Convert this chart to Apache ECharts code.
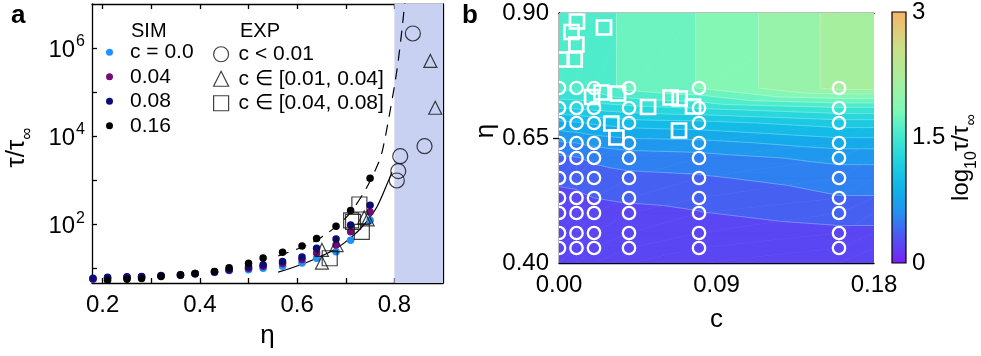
<!DOCTYPE html>
<html>
<head>
<meta charset="utf-8">
<script src="https://cdn.jsdelivr.net/npm/echarts@6/dist/echarts.min.js"></script>
<style>
  html, body { margin: 0; padding: 0; background: #ffffff; }
  #chart { width: 981px; height: 356px; }
</style>
</head>
<body>
<div id="chart"></div>
<script>
// ---------------- Panel a: tau / tau_inf versus packing fraction eta ----------------
const etaSim = [0.18, 0.21, 0.25, 0.28, 0.32, 0.36, 0.39, 0.43, 0.46, 0.50, 0.53, 0.57, 0.61, 0.64, 0.68, 0.71, 0.75];
const tauSimC000 = [5.6, 5.9, 6.1, 6.3, 6.6, 6.9, 7.4, 8.0, 8.8, 9.2, 10.0, 11.0, 13.1, 16.8, 23.6, 43, 123];
const tauSimC004 = [5.7, 6.0, 6.2, 6.4, 6.7, 7.0, 7.5, 8.2, 9.0, 9.9, 11.0, 12.8, 15.8, 22, 33.5, 67, 189];
const tauSimC008 = [5.9, 6.2, 6.4, 6.5, 6.8, 7.1, 7.6, 8.3, 9.3, 10.6, 12.0, 14.2, 18, 28.5, 46, 95, 268];
const tauSimC016 = [null, 5.3, 5.6, 5.8, 6.5, 7.0, 7.6, 8.4, 10.2, 12.9, 17.0, 22.9, 32, 47, 90, 205, 1100];

// fitted curves
const fitSolidEta = [0.561, 0.606, 0.647, 0.675, 0.709, 0.737, 0.764, 0.788, 0.795];
const fitSolidTau = [8.1, 11.8, 18.2, 25.7, 47.5, 95.5, 245, 977, 1514];
const fitDashedEta = [0.561, 0.617, 0.654, 0.702, 0.740, 0.768, 0.777, 0.792, 0.806, 0.816, 0.822];
const fitDashedTau = [18.9, 32.4, 53.7, 146, 589, 2570, 5620, 41700, 355000, 2.88e6, 1.26e7];

// experiments
const expCircleEta = [0.838, 0.862, 0.812, 0.808, 0.805];
const expCircleTau = [2.14e6, 5.9e3, 3.5e3, 1.6e3, 980];
const expTriangleEta = [0.874, 0.884, 0.651, 0.651, 0.681, 0.738, 0.745];
const expTriangleTau = [5.1e5, 4.4e4, 25.9, 13.3, 33.5, 142, 128];
const expSquareEta = [0.728, 0.711, 0.715, 0.733, 0.667];
const expSquareTau = [279, 122, 112, 67, 16.8];

const glassEtaRange = [0.8, 0.9];
const etaAxisA = [0.178, 0.9];
const tauAxisA = [4.6, 1e7];
const etaTicksA = [0.2, 0.3, 0.4, 0.5, 0.6, 0.7, 0.8];
const etaLabelsA = [0.2, 0.4, 0.6, 0.8];
const tauTickExp = [1, 2, 3, 4, 5, 6];
const tauLabelExp = [2, 4, 6];

// ---------------- Panel b: log10 tau/tau_inf over (c, eta) ----------------
const gridC = [0, 0.01, 0.02, 0.04, 0.08, 0.16];
const gridEta = [0.43, 0.46, 0.50, 0.53, 0.57, 0.61, 0.64, 0.68, 0.71, 0.75];
const mapLogTauC000 = [0.16, 0.18, 0.22, 0.26, 0.33, 0.42, 0.58, 0.85, 1.20, 1.54];
const mapLogTauC001 = [0.16, 0.19, 0.23, 0.27, 0.34, 0.44, 0.60, 0.88, 1.22, 1.55];
const mapLogTauC002 = [0.17, 0.20, 0.26, 0.30, 0.38, 0.48, 0.64, 0.92, 1.25, 1.56];
const mapLogTauC004 = [0.18, 0.21, 0.27, 0.315, 0.41, 0.52, 0.68, 0.97, 1.30, 1.70];
const mapLogTauC008 = [0.19, 0.23, 0.295, 0.33, 0.43, 0.54, 0.70, 1.00, 1.36, 1.805];
const mapLogTauC016 = [0.22, 0.27, 0.35, 0.44, 0.52, 0.64, 0.82, 1.12, 1.48, 2.146];

const mapExpC   = [0.0103, 0.0071, 0.0099, 0.0014, 0.0090, 0.0257, 0.0189, 0.0242, 0.0337, 0.0509, 0.0638, 0.0690, 0.0766, 0.0299, 0.0328, 0.0686];
const mapExpEta = [0.883, 0.862, 0.837, 0.807, 0.807, 0.871, 0.732, 0.741, 0.739, 0.712, 0.731, 0.729, 0.713, 0.679, 0.651, 0.665];

const cAxisB = [0, 0.18];
const etaAxisB = [0.4, 0.9];
const cLabelsB = [0, 0.09, 0.18];
const etaLabelsB = [0.4, 0.65, 0.9];
const colorbarRange = [0, 3];
const colorbarLabels = [0, 1.5, 3];
const contourStep = 0.15;

const cmapStops = [
  [0.00, '#7a1ff5'], [0.35, '#4a5cf2'], [0.60, '#2490f0'], [0.90, '#10b4e8'],
  [1.20, '#20d0e0'], [1.50, '#40e8d0'], [1.83, '#80f8b8'], [2.15, '#a4f0a0'],
  [2.55, '#c8e088'], [3.00, '#f8b468']
];

const FONT = 'Liberation Sans, Arial, Helvetica, sans-serif';

function hexToRgb(h) { return [1, 3, 5].map(i => parseInt(h.substr(i, 2), 16)); }
function cmap(v) {
  if (v <= cmapStops[0][0]) return cmapStops[0][1];
  for (let i = 1; i < cmapStops.length; i++) {
    if (v <= cmapStops[i][0]) {
      const [v0, c0] = cmapStops[i - 1], [v1, c1] = cmapStops[i];
      const t = (v - v0) / (v1 - v0);
      const a = hexToRgb(c0), b = hexToRgb(c1);
      return 'rgb(' + a.map((x, k) => Math.round(x + (b[k] - x) * t)).join(',') + ')';
    }
  }
  return cmapStops[cmapStops.length - 1][1];
}

// filled contours: the grid is held constant out to the frame edges, each cell is
// split into two triangles and each triangle is clipped to every level band
const mapCols = [mapLogTauC000, mapLogTauC001, mapLogTauC002, mapLogTauC004, mapLogTauC008, mapLogTauC016];
const nodeC = gridC.concat([cAxisB[1]]);
const nodeEta = [etaAxisB[0]].concat(gridEta, [etaAxisB[1]]);
const nodeF = nodeC.map((c, i) => {
  const col = mapCols[Math.min(i, mapCols.length - 1)];
  return [col[0]].concat(col, [col[col.length - 1]]);
});

function clipPoly(poly, level, keepAbove) {
  const out = [];
  for (let i = 0; i < poly.length; i++) {
    const a = poly[i], b = poly[(i + 1) % poly.length];
    const ina = keepAbove ? a[2] >= level : a[2] <= level;
    const inb = keepAbove ? b[2] >= level : b[2] <= level;
    if (ina) out.push(a);
    if (ina !== inb) {
      const t = (level - a[2]) / (b[2] - a[2]);
      out.push([a[0] + t * (b[0] - a[0]), a[1] + t * (b[1] - a[1]), level]);
    }
  }
  return out;
}

// contour line piece of one level inside a triangle
function levelSegment(tri, level) {
  const pts = [];
  for (let i = 0; i < 3; i++) {
    const a = tri[i], b = tri[(i + 1) % 3];
    if ((a[2] < level) !== (b[2] < level)) {
      const t = (level - a[2]) / (b[2] - a[2]);
      pts.push([a[0] + t * (b[0] - a[0]), a[1] + t * (b[1] - a[1])]);
    }
  }
  return pts.length === 2 ? pts : null;
}

const contourPolys = [];
const contourSegs = [];
const nBands = Math.round((colorbarRange[1] - colorbarRange[0]) / contourStep);
for (let i = 0; i < nodeC.length - 1; i++) {
  for (let j = 0; j < nodeEta.length - 1; j++) {
    const p00 = [nodeC[i], nodeEta[j], nodeF[i][j]];
    const p10 = [nodeC[i + 1], nodeEta[j], nodeF[i + 1][j]];
    const p11 = [nodeC[i + 1], nodeEta[j + 1], nodeF[i + 1][j + 1]];
    const p01 = [nodeC[i], nodeEta[j + 1], nodeF[i][j + 1]];
    [[p00, p10, p11], [p00, p11, p01]].forEach(tri => {
      for (let k = 0; k < nBands; k++) {
        const lo = colorbarRange[0] + k * contourStep, hi = lo + contourStep;
        if (k > 0) {
          const seg = levelSegment(tri, lo);
          if (seg) contourSegs.push(seg);
        }
        let poly = clipPoly(tri, lo, true);
        if (poly.length < 3) continue;
        poly = clipPoly(poly, hi, false);
        if (poly.length < 3) continue;
        contourPolys.push({ pts: poly.map(p => [p[0], p[1]]), color: cmap(lo + contourStep / 2) });
      }
    });
  }
}

const simGridPoints = [];
gridC.forEach(c => gridEta.forEach(e => simGridPoints.push([c, e])));

const lg = v => (v == null ? null : Math.log10(v));
const pairs = (xs, ys) => xs.map((x, i) => [x, lg(ys[i])]);

const axisLineStyle = { show: true, lineStyle: { color: '#000', width: 1.3 } };
const tickStyle = { color: '#000', width: 1.3 };
const labelBase = { color: '#000', fontSize: 24, fontFamily: FONT };

const chart = echarts.init(document.getElementById('chart'), null, { renderer: 'canvas' });

const simColors = ['#1e90ff', '#780a78', '#0c0c78', '#000000'];
function simSeries(name, tau, color) {
  return {
    name, type: 'scatter', xAxisIndex: 0, yAxisIndex: 0,
    data: pairs(etaSim, tau).filter(p => p[1] != null),
    symbol: 'circle', symbolSize: 7.5, itemStyle: { color, opacity: 1 }, z: 4
  };
}
function expSeries(name, eta, tau, symbol, size) {
  return {
    name, type: 'scatter', xAxisIndex: 0, yAxisIndex: 0,
    data: pairs(eta, tau), symbol, symbolSize: size,
    itemStyle: { color: 'rgba(0,0,0,0)', borderColor: '#111', borderWidth: 1.2 }, z: 5
  };
}

const option = {
  animation: false,
  backgroundColor: '#ffffff',
  title: [
    { text: 'a', left: 6, top: -2, textStyle: { fontSize: 26, fontWeight: 'bold', fontFamily: FONT, color: '#000' } },
    { text: 'b', left: 457, top: -2, textStyle: { fontSize: 26, fontWeight: 'bold', fontFamily: FONT, color: '#000' } },
    { text: 'SIM', left: 126, top: 16, textStyle: { fontSize: 20, fontWeight: 'normal', fontFamily: FONT, color: '#000' } },
    { text: 'EXP', left: 235, top: 16, textStyle: { fontSize: 20, fontWeight: 'normal', fontFamily: FONT, color: '#000' } }
  ],
  legend: [
    {
      data: ['c = 0.0', '0.04', '0.08', '0.16'], orient: 'vertical', left: 101, top: 35,
      icon: 'circle', itemWidth: 7, itemHeight: 7, itemGap: 0, selectedMode: false,
      textStyle: { fontSize: 21, fontFamily: FONT, color: '#000', lineHeight: 24.5, padding: [0, 0, 0, 12] }
    },
    {
      data: ['c < 0.01', 'c ∈ [0.01, 0.04]', 'c ∈ [0.04, 0.08]'], orient: 'vertical', left: 208, top: 37,
      itemWidth: 15, itemHeight: 15, itemGap: 0, selectedMode: false,
      itemStyle: { borderWidth: 1.2 },
      textStyle: { fontSize: 21, fontFamily: FONT, color: '#000', lineHeight: 24.5, padding: [0, 0, 0, 5] }
    }
  ],
  grid: [
    { left: 92, top: 4, width: 351, height: 279 },
    { left: 559, top: 13, width: 315, height: 250 },
    { left: 892, top: 12, width: 14, height: 251 }
  ],
  xAxis: [
    {
      gridIndex: 0, type: 'value', min: etaAxisA[0], max: etaAxisA[1], position: 'bottom',
      axisLine: axisLineStyle, splitLine: { show: false },
      axisTick: { inside: true, length: 5, customValues: etaTicksA, lineStyle: tickStyle },
      axisLabel: Object.assign({ customValues: etaLabelsA, margin: 10, formatter: v => v.toFixed(1) }, labelBase),
      name: 'η', nameLocation: 'middle', nameGap: 40,
      nameTextStyle: { fontSize: 26, fontFamily: FONT, color: '#000' }
    },
    {
      gridIndex: 0, type: 'value', min: etaAxisA[0], max: etaAxisA[1], position: 'top',
      axisLine: axisLineStyle, splitLine: { show: false }, axisLabel: { show: false },
      axisTick: { inside: true, length: 5, customValues: etaTicksA, lineStyle: tickStyle }
    },
    {
      gridIndex: 1, type: 'value', min: cAxisB[0], max: cAxisB[1], position: 'bottom',
      axisLine: axisLineStyle, splitLine: { show: false },
      axisTick: { inside: true, length: 6, customValues: [0.09], lineStyle: tickStyle },
      axisLabel: Object.assign({ customValues: cLabelsB, margin: 10, formatter: v => v.toFixed(2) }, labelBase),
      name: 'c', nameLocation: 'middle', nameGap: 44,
      nameTextStyle: { fontSize: 26, fontFamily: FONT, color: '#000' }
    },
    {
      gridIndex: 1, type: 'value', min: cAxisB[0], max: cAxisB[1], position: 'top',
      axisLine: axisLineStyle, splitLine: { show: false }, axisLabel: { show: false },
      axisTick: { inside: true, length: 6, customValues: [0.09], lineStyle: tickStyle }
    },
    { gridIndex: 2, type: 'value', min: 0, max: 1, show: false }
  ],
  yAxis: [
    {
      gridIndex: 0, type: 'value', min: lg(tauAxisA[0]), max: lg(tauAxisA[1]), position: 'left',
      axisLine: axisLineStyle, splitLine: { show: false },
      axisTick: { inside: true, length: 5, customValues: tauTickExp, lineStyle: tickStyle },
      axisLabel: {
        customValues: tauLabelExp, margin: 7,
        formatter: v => '{b|10}{p|' + Math.round(v) + '}',
        rich: {
          b: { fontSize: 24, fontFamily: FONT, color: '#000', verticalAlign: 'bottom' },
          p: { fontSize: 16, fontFamily: FONT, color: '#000', verticalAlign: 'bottom', padding: [0, 0, 12, 1] }
        }
      },
      name: '{b|τ/τ}{s|∞}', nameLocation: 'middle', nameGap: 56, nameRotate: 90,
      nameTextStyle: {
        padding: [0, 8, 0, 0],
        rich: {
          b: { fontSize: 26, fontFamily: FONT, color: '#000', verticalAlign: 'bottom', padding: [0, 0, 6, 0] },
          s: { fontSize: 17, fontFamily: FONT, color: '#000', verticalAlign: 'bottom' }
        }
      }
    },
    {
      gridIndex: 0, type: 'value', min: lg(tauAxisA[0]), max: lg(tauAxisA[1]), position: 'right',
      axisLine: axisLineStyle, splitLine: { show: false }, axisLabel: { show: false },
      axisTick: { inside: true, length: 5, customValues: tauTickExp, lineStyle: tickStyle }
    },
    {
      gridIndex: 1, type: 'value', min: etaAxisB[0], max: etaAxisB[1], position: 'left',
      axisLine: axisLineStyle, splitLine: { show: false },
      axisTick: { inside: true, length: 6, customValues: [0.65], lineStyle: tickStyle },
      axisLabel: Object.assign({ customValues: etaLabelsB, margin: 10, formatter: v => v.toFixed(2) }, labelBase),
      name: 'η', nameLocation: 'middle', nameGap: 60, nameRotate: 90,
      nameTextStyle: { fontSize: 26, fontFamily: FONT, color: '#000', padding: [0, 0, 0, 14] }
    },
    {
      gridIndex: 1, type: 'value', min: etaAxisB[0], max: etaAxisB[1], position: 'right',
      axisLine: axisLineStyle, splitLine: { show: false }, axisLabel: { show: false },
      axisTick: { inside: true, length: 6, customValues: [0.65], lineStyle: tickStyle }
    },
    {
      gridIndex: 2, type: 'value', min: colorbarRange[0], max: colorbarRange[1], position: 'right',
      axisLine: { show: false }, axisTick: { show: false }, splitLine: { show: false },
      axisLabel: Object.assign({ customValues: colorbarLabels, margin: 6, formatter: v => String(v) }, labelBase),
      name: '{b|log}{s|10}{b|τ/τ}{s|∞}', nameLocation: 'middle', nameGap: 42, nameRotate: 90,
      nameTextStyle: {
        padding: [0, 40, 0, 0],
        rich: {
          b: { fontSize: 24, fontFamily: FONT, color: '#000', verticalAlign: 'bottom', padding: [0, 0, 6, 0] },
          s: { fontSize: 16, fontFamily: FONT, color: '#000', verticalAlign: 'bottom' }
        }
      }
    },
    {
      gridIndex: 2, type: 'value', min: colorbarRange[0], max: colorbarRange[1], position: 'left',
      axisLine: { show: false }, splitLine: { show: false }, axisLabel: { show: false },
      axisTick: { inside: true, length: 5, customValues: [1.5], lineStyle: tickStyle }
    }
  ],
  series: [
    // shaded glass region
    {
      type: 'custom', xAxisIndex: 0, yAxisIndex: 0, clip: true, z: 1,
      data: [[glassEtaRange[0], lg(tauAxisA[1])]],
      renderItem: (params, api) => {
        const p0 = api.coord([glassEtaRange[0], lg(tauAxisA[1])]);
        const p1 = api.coord([glassEtaRange[1], lg(tauAxisA[0])]);
        return { type: 'rect', shape: { x: p0[0], y: p0[1], width: p1[0] - p0[0], height: p1[1] - p0[1] },
                 style: { fill: '#c9d1f2' } };
      }
    },
    {
      name: 'fit-solid', type: 'line', xAxisIndex: 0, yAxisIndex: 0, data: pairs(fitSolidEta, fitSolidTau),
      smooth: 0.3, showSymbol: false, lineStyle: { color: '#000', width: 1.2 }, z: 3
    },
    {
      name: 'fit-dashed', type: 'line', xAxisIndex: 0, yAxisIndex: 0, data: pairs(fitDashedEta, fitDashedTau),
      smooth: 0.3, showSymbol: false, lineStyle: { color: '#000', width: 1.2, type: [11, 8] }, z: 3
    },
    simSeries('c = 0.0', tauSimC000, simColors[0]),
    simSeries('0.04', tauSimC004, simColors[1]),
    simSeries('0.08', tauSimC008, simColors[2]),
    simSeries('0.16', tauSimC016, simColors[3]),
    expSeries('c < 0.01', expCircleEta, expCircleTau, 'circle', 15),
    expSeries('c ∈ [0.01, 0.04]', expTriangleEta, expTriangleTau, 'triangle', 13),
    expSeries('c ∈ [0.04, 0.08]', expSquareEta, expSquareTau, 'rect', 15),

    // panel b: filled contour bands
    {
      type: 'custom', xAxisIndex: 2, yAxisIndex: 2, clip: true, z: 1,
      data: contourPolys.map(p => [p.pts[0][0], p.pts[0][1]]),
      renderItem: (params, api) => {
        const poly = contourPolys[params.dataIndex];
        return { type: 'polygon', shape: { points: poly.pts.map(p => api.coord(p)) },
                 style: { fill: poly.color, stroke: poly.color, lineWidth: 0.7 } };
      }
    },
    // faint light seams along the contour levels
    {
      type: 'custom', xAxisIndex: 2, yAxisIndex: 2, clip: true, z: 2,
      data: contourSegs.map(s => [s[0][0], s[0][1]]),
      renderItem: (params, api) => {
        const s = contourSegs[params.dataIndex];
        const a = api.coord(s[0]), b = api.coord(s[1]);
        return { type: 'line', shape: { x1: a[0], y1: a[1], x2: b[0], y2: b[1] },
                 style: { stroke: 'rgba(255,255,255,0.3)', lineWidth: 0.8 } };
      }
    },
    // simulation state points
    {
      type: 'custom', xAxisIndex: 2, yAxisIndex: 2, clip: true, z: 4,
      data: simGridPoints,
      renderItem: (params, api) => {
        const p = api.coord([api.value(0), api.value(1)]);
        return { type: 'circle', shape: { cx: p[0], cy: p[1], r: 6.2 },
                 style: { fill: 'none', stroke: '#ffffff', lineWidth: 2.3 } };
      }
    },
    // experimental state points
    {
      type: 'custom', xAxisIndex: 2, yAxisIndex: 2, clip: true, z: 5,
      data: mapExpC.map((c, i) => [c, mapExpEta[i]]),
      renderItem: (params, api) => {
        const p = api.coord([api.value(0), api.value(1)]);
        const s = 14;
        return { type: 'rect', shape: { x: p[0] - s / 2, y: p[1] - s / 2, width: s, height: s },
                 style: { fill: 'none', stroke: '#ffffff', lineWidth: 2.7 } };
      }
    },
    // colour bar
    {
      type: 'custom', xAxisIndex: 4, yAxisIndex: 4, z: 2,
      data: [[0, colorbarRange[0]]],
      renderItem: (params, api) => {
        const p0 = api.coord([0, colorbarRange[1]]);
        const p1 = api.coord([1, colorbarRange[0]]);
        const span = colorbarRange[1] - colorbarRange[0];
        return {
          type: 'rect', shape: { x: p0[0], y: p0[1], width: p1[0] - p0[0], height: p1[1] - p0[1] },
          style: {
            fill: new echarts.graphic.LinearGradient(0, 1, 0, 0,
              cmapStops.map(s => ({ offset: (s[0] - colorbarRange[0]) / span, color: s[1] }))),
            stroke: '#000', lineWidth: 1.2
          }
        };
      }
    }
  ]
};

chart.setOption(option);
</script>
</body>
</html>
